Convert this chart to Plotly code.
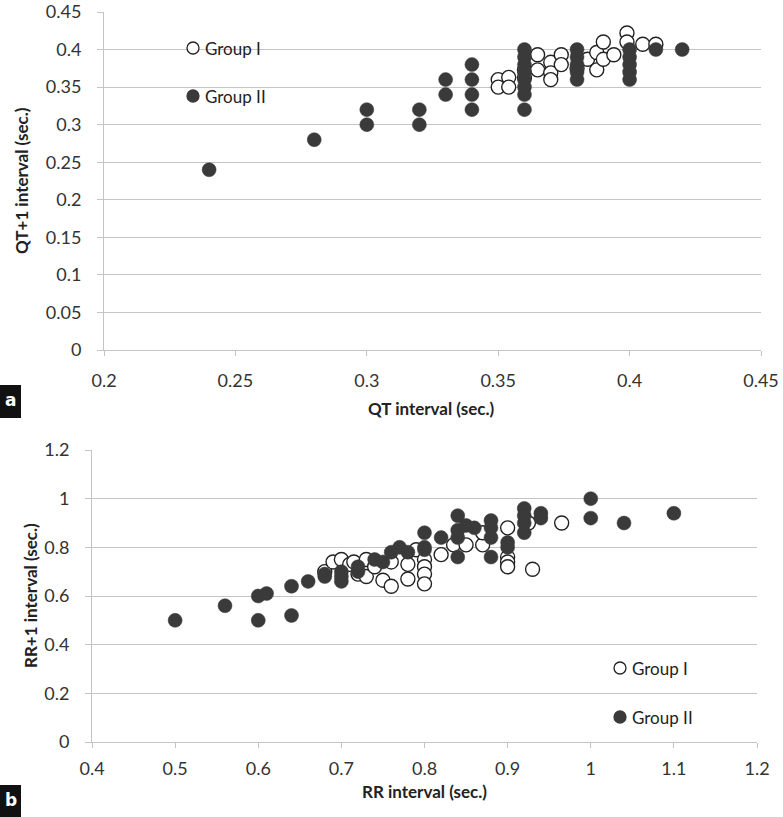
import plotly.graph_objects as go

# ---------------- data ----------------
# Panel a: QT interval vs QT+1 interval
qt_g1_x = [0.35, 0.35, 0.354, 0.354, 0.36, 0.36, 0.365, 0.365, 0.37, 0.37, 0.37, 0.374, 0.374,
           0.38, 0.384, 0.3875, 0.3875, 0.39, 0.39, 0.394, 0.399, 0.399, 0.405, 0.41]
qt_g1_y = [0.36, 0.35, 0.363, 0.35, 0.373, 0.363, 0.393, 0.373, 0.383, 0.369, 0.36, 0.393, 0.38,
           0.375, 0.387, 0.396, 0.373, 0.41, 0.387, 0.393, 0.422, 0.41, 0.407, 0.407]
qt_g2_x = [0.24, 0.28, 0.30, 0.30, 0.32, 0.32, 0.33, 0.33, 0.34, 0.34, 0.34, 0.34,
           0.36, 0.36, 0.36, 0.36, 0.36, 0.36, 0.36, 0.36,
           0.38, 0.38, 0.38, 0.38, 0.38, 0.40, 0.40, 0.40, 0.40, 0.40, 0.41, 0.42]
qt_g2_y = [0.24, 0.28, 0.32, 0.30, 0.32, 0.30, 0.36, 0.34, 0.38, 0.36, 0.34, 0.32,
           0.40, 0.39, 0.38, 0.37, 0.36, 0.35, 0.34, 0.32,
           0.40, 0.39, 0.38, 0.37, 0.36, 0.40, 0.39, 0.38, 0.37, 0.36, 0.40, 0.40]

# Panel b: RR interval vs RR+1 interval
rr_g1_x = [0.68, 0.69, 0.70, 0.71, 0.715, 0.72, 0.73, 0.73, 0.74, 0.75, 0.76, 0.76, 0.78, 0.78,
           0.79, 0.80, 0.80, 0.80, 0.80, 0.82, 0.835, 0.85, 0.87, 0.87, 0.90, 0.90, 0.90,
           0.90, 0.925, 0.93, 0.965]
rr_g1_y = [0.70, 0.74, 0.75, 0.73, 0.74, 0.69, 0.75, 0.68, 0.72, 0.665, 0.64, 0.74, 0.67, 0.73,
           0.79, 0.75, 0.72, 0.69, 0.65, 0.77, 0.81, 0.81, 0.81, 0.86, 0.88, 0.76, 0.74,
           0.72, 0.90, 0.71, 0.90]
rr_g2_x = [0.50, 0.56, 0.60, 0.61, 0.60, 0.64, 0.64, 0.66, 0.68, 0.68, 0.70, 0.70, 0.70, 0.72,
           0.72, 0.74, 0.75, 0.76, 0.77, 0.78, 0.80, 0.80, 0.80, 0.82, 0.84, 0.84, 0.84, 0.84,
           0.85, 0.86, 0.88, 0.88, 0.88, 0.88, 0.90, 0.90, 0.92, 0.92, 0.92, 0.92, 0.94, 0.94,
           1.00, 1.00, 1.04, 1.10]
rr_g2_y = [0.50, 0.56, 0.60, 0.61, 0.50, 0.64, 0.52, 0.66, 0.69, 0.68, 0.70, 0.68, 0.66, 0.70,
           0.72, 0.75, 0.74, 0.78, 0.80, 0.78, 0.79, 0.80, 0.86, 0.84, 0.93, 0.87, 0.84, 0.76,
           0.89, 0.88, 0.91, 0.88, 0.84, 0.76, 0.82, 0.80, 0.96, 0.93, 0.90, 0.86, 0.94, 0.92,
           1.00, 0.92, 0.90, 0.94]

qt_x_ticks = [0.2, 0.25, 0.3, 0.35, 0.4, 0.45]
qt_y_ticks = [0, 0.05, 0.1, 0.15, 0.2, 0.25, 0.3, 0.35, 0.4, 0.45]
rr_x_ticks = [0.4, 0.5, 0.6, 0.7, 0.8, 0.9, 1.0, 1.1, 1.2]
rr_y_ticks = [0, 0.2, 0.4, 0.6, 0.8, 1.0, 1.2]
legend_names = ["Group I", "Group II"]

# ---------------- styling ----------------
W, H = 783, 817
FILL = "#3a3a3a"
GRID = "#c4c4c4"
TXT = "#333333"
FONT = "Lato, Open Sans, sans-serif"

def px_x(p):
    return p / W

def px_y(p):
    return 1 - p / H

open_marker = dict(symbol="circle", size=14, color="white", line=dict(color="#222222", width=1.4))
fill_marker = dict(symbol="circle", size=14, color=FILL, line=dict(color=FILL, width=0.5))

fig = go.Figure()
fig.add_trace(go.Scatter(x=qt_g1_x, y=qt_g1_y, mode="markers", marker=open_marker,
                         name=legend_names[0], xaxis="x", yaxis="y", showlegend=False))
fig.add_trace(go.Scatter(x=qt_g2_x, y=qt_g2_y, mode="markers", marker=fill_marker,
                         name=legend_names[1], xaxis="x", yaxis="y", showlegend=False))
fig.add_trace(go.Scatter(x=rr_g1_x, y=rr_g1_y, mode="markers", marker=open_marker,
                         name=legend_names[0], xaxis="x2", yaxis="y2", showlegend=False))
fig.add_trace(go.Scatter(x=rr_g2_x, y=rr_g2_y, mode="markers", marker=fill_marker,
                         name=legend_names[1], xaxis="x2", yaxis="y2", showlegend=False))

xcommon = dict(showgrid=False, zeroline=False, showline=True, linecolor=GRID, linewidth=1,
               ticks="outside", ticklen=5, tickcolor=GRID, automargin=False,
               tickfont=dict(family=FONT, size=18, color=TXT))
ycommon = dict(showgrid=True, gridcolor=GRID, gridwidth=1, zeroline=False, showline=True,
               linecolor=GRID, linewidth=1, ticks="outside", ticklen=6, tickcolor=GRID,
               automargin=False,
               tickfont=dict(family=FONT, size=18, color=TXT), ticklabelstandoff=12)

fig.update_layout(
    width=W, height=H,
    margin=dict(l=0, r=0, t=0, b=0, pad=0, autoexpand=False),
    paper_bgcolor="white", plot_bgcolor="white",
    showlegend=False,
    hovermode=False,
    xaxis=dict(domain=[px_x(104), px_x(761)], range=[0.2, 0.45], tickvals=qt_x_ticks,
               anchor="y", ticklabelstandoff=9, **xcommon),
    yaxis=dict(domain=[px_y(350), px_y(12)], range=[0, 0.45], tickvals=qt_y_ticks,
               anchor="x", **ycommon),
    xaxis2=dict(domain=[px_x(92), px_x(757)], range=[0.4, 1.2], tickvals=rr_x_ticks,
                anchor="y2", ticklabelstandoff=5, **xcommon),
    yaxis2=dict(domain=[px_y(742), px_y(450)], range=[0, 1.2], tickvals=rr_y_ticks,
                anchor="x2", **ycommon),
)

annotations = []
shapes = []

# axis titles
title_font = dict(family=FONT, size=17, color="#222222")
annotations += [
    dict(text="<b>QT interval (sec.)</b>", x=px_x(431), y=px_y(408), xref="paper", yref="paper",
         showarrow=False, font=title_font, xanchor="center", yanchor="middle"),
    dict(text="<b>QT+1 interval (sec.)</b>", x=px_x(22), y=px_y(181), xref="paper", yref="paper",
         showarrow=False, font=title_font, textangle=-90, xanchor="center", yanchor="middle"),
    dict(text="<b>RR interval (sec.)</b>", x=px_x(424), y=px_y(791), xref="paper", yref="paper",
         showarrow=False, font=title_font, xanchor="center", yanchor="middle"),
    dict(text="<b>RR+1 interval (sec.)</b>", x=px_x(30), y=px_y(596), xref="paper", yref="paper",
         showarrow=False, font=title_font, textangle=-90, xanchor="center", yanchor="middle"),
]

# legends (drawn as circle shapes + text)
leg_font = dict(family=FONT, size=17, color="#222222")
for (cx, cy, name, filled) in [(193, 48, legend_names[0], False), (193, 96, legend_names[1], True),
                               (620, 668, legend_names[0], False), (620, 717, legend_names[1], True)]:
    shapes.append(dict(type="circle", xref="paper", yref="paper",
                       xsizemode="pixel", ysizemode="pixel",
                       xanchor=px_x(cx), yanchor=px_y(cy), x0=-6, x1=6, y0=-6, y1=6,
                       fillcolor=FILL if filled else "white",
                       line=dict(color="#222222" if not filled else FILL, width=1.3)))
    annotations.append(dict(text=name, x=px_x(cx + 10), y=px_y(cy), xref="paper", yref="paper",
                            showarrow=False, font=leg_font, xanchor="left", yanchor="middle"))

# panel labels
for (lab, y0, y1) in [("a", 385, 418), ("b", 785, 817)]:
    shapes.append(dict(type="rect", xref="paper", yref="paper",
                       x0=0, x1=px_x(21), y0=px_y(y1), y1=px_y(y0),
                       fillcolor="#111111", line=dict(width=0)))
    annotations.append(dict(text=f"<b>{lab}</b>", x=px_x(10.5), y=px_y((y0 + y1) / 2 - 1),
                            xref="paper", yref="paper", showarrow=False,
                            font=dict(family="DejaVu Sans", size=17, color="white"),
                            xanchor="center", yanchor="middle"))

fig.update_layout(annotations=annotations, shapes=shapes)
fig.write_html(
    "out.html",
    config={"displayModeBar": False, "staticPlot": True},
    post_script="document.body.style.margin='0';document.body.style.padding='0';"
                "document.body.style.overflow='hidden';"
                "document.documentElement.style.overflow='hidden';",
)
